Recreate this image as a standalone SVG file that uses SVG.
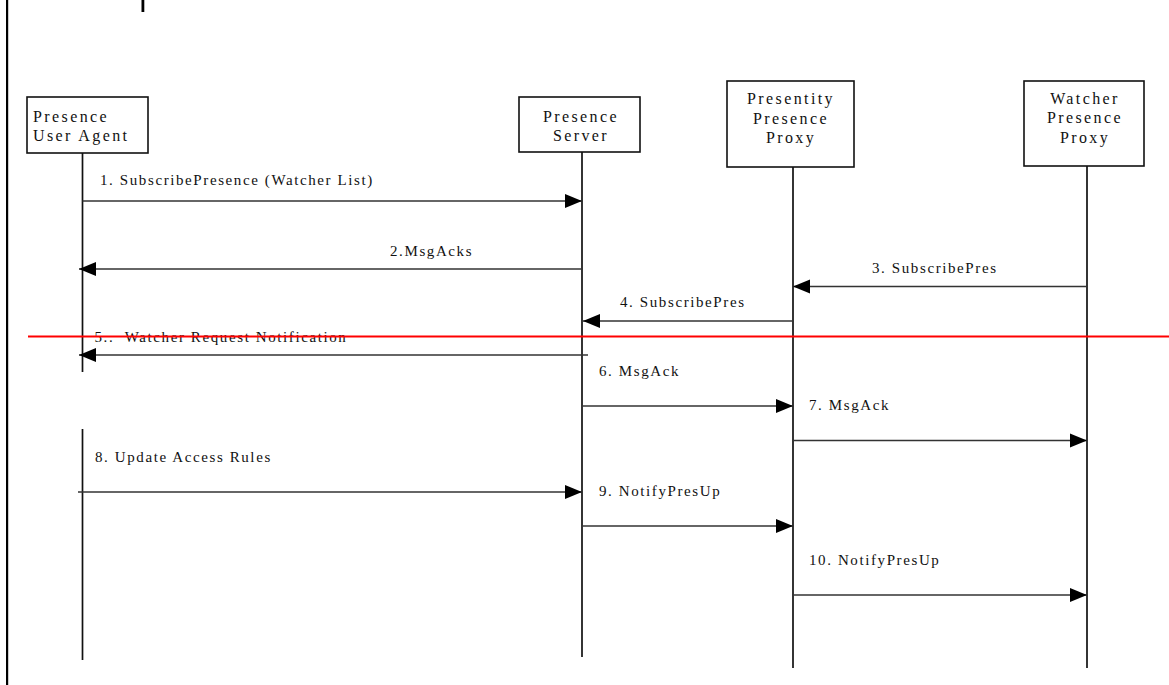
<svg xmlns="http://www.w3.org/2000/svg" width="1169" height="685" viewBox="0 0 1169 685">
<style>
.box{fill:#fff;stroke:#111;stroke-width:1.6}
.life{stroke:#111;stroke-width:1.7;fill:none}
.msg{stroke:#333;stroke-width:1.5;fill:none;marker-end:url(#ah)}
.bt{font-family:"Liberation Serif","Times New Roman",serif;font-size:16px;letter-spacing:2.4px;fill:#111}
.bc{text-anchor:middle}
.lt{font-family:"Liberation Serif","Times New Roman",serif;font-size:15px;letter-spacing:1.6px;fill:#111}
</style>
<defs>
<marker id="ah" markerUnits="userSpaceOnUse" markerWidth="18" markerHeight="15" refX="17" refY="7.5" orient="auto">
<path d="M0,0.5 L17,7.5 L0,14.5 Z" fill="#000"/>
</marker>
</defs>
<rect width="1169" height="685" fill="#fff"/>
<g id="frame">
<rect x="6" y="0" width="2.2" height="685" fill="#000"/>
<rect x="141.5" y="0" width="2.8" height="12" fill="#000"/>
</g>
<g id="node-pua">
<rect class="box" x="27" y="97" width="121" height="56"/>
<text class="bt" x="33" y="122">Presence</text>
<text class="bt" x="33" y="141">User Agent</text>
<line class="life" x1="82.5" y1="153" x2="82.5" y2="372"/>
<line class="life" x1="82.5" y1="429" x2="82.5" y2="660"/>
</g>
<g id="node-ps">
<rect class="box" x="519" y="97" width="121" height="55"/>
<text class="bt bc" x="581" y="122">Presence</text>
<text class="bt bc" x="581" y="141">Server</text>
<line class="life" x1="582" y1="152" x2="582" y2="657"/>
</g>
<g id="node-ppp">
<rect class="box" x="727" y="81" width="127" height="86"/>
<text class="bt bc" x="791" y="104">Presentity</text>
<text class="bt bc" x="791" y="124">Presence</text>
<text class="bt bc" x="791" y="143">Proxy</text>
<line class="life" x1="793" y1="167" x2="793" y2="668"/>
</g>
<g id="node-wpp">
<rect class="box" x="1024" y="81" width="120" height="85"/>
<text class="bt bc" x="1085" y="104">Watcher</text>
<text class="bt bc" x="1085" y="123">Presence</text>
<text class="bt bc" x="1085" y="143">Proxy</text>
<line class="life" x1="1087" y1="166" x2="1087" y2="668"/>
</g>
<g id="connectors">
<line class="msg" x1="82.5" y1="201" x2="582" y2="201"/>
<text class="lt" x="100" y="185">1. SubscribePresence (Watcher List)</text>
<line class="msg" x1="583" y1="269" x2="79" y2="269"/>
<text class="lt" x="390" y="256">2.MsgAcks</text>
<line class="msg" x1="1087" y1="286.5" x2="793" y2="286.5"/>
<text class="lt" x="872" y="273">3. SubscribePres</text>
<line class="msg" x1="793" y1="321" x2="583" y2="321"/>
<text class="lt" x="620" y="306.5">4. SubscribePres</text>
<line class="msg" x1="588" y1="355" x2="79" y2="355"/>
<text class="lt" x="94.5" y="342">5..&#160; Watcher Request Notification</text>
<line class="msg" x1="582" y1="406" x2="793" y2="406"/>
<text class="lt" x="599" y="376">6. MsgAck</text>
<line class="msg" x1="793" y1="440.5" x2="1087" y2="440.5"/>
<text class="lt" x="809" y="410">7. MsgAck</text>
<line class="msg" x1="78" y1="492" x2="582" y2="492"/>
<text class="lt" x="95" y="462">8. Update Access Rules</text>
<line class="msg" x1="582" y1="526" x2="793" y2="526"/>
<text class="lt" x="599" y="496">9. NotifyPresUp</text>
<line class="msg" x1="793" y1="595" x2="1087" y2="595"/>
<text class="lt" x="809" y="565">10. NotifyPresUp</text>
</g>
<line id="redline" x1="28" y1="336.5" x2="1169" y2="336.5" stroke="#f00" stroke-width="2"/>
</svg>
